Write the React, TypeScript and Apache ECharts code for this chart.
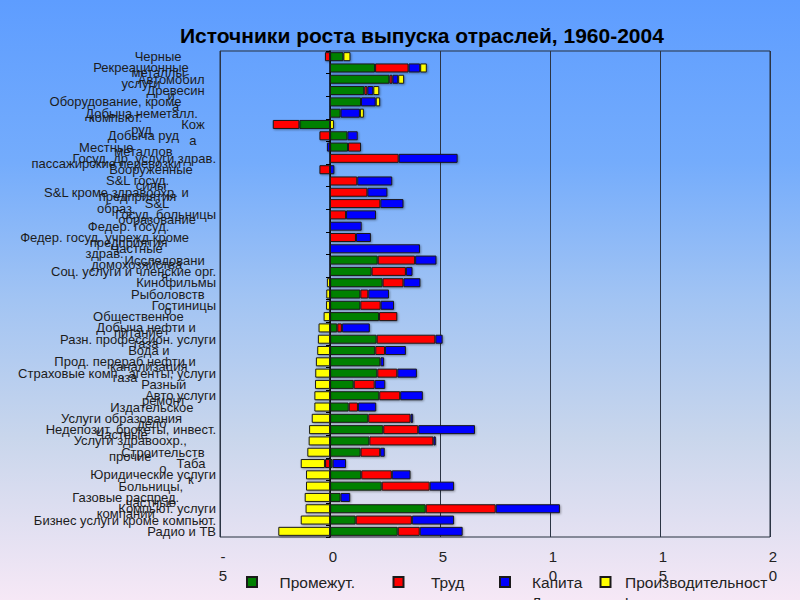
import React, { useEffect, useRef } from 'react';
import * as echarts from 'echarts';

const categories: string[] = [
  'Черные\nметаллы',
  'Рекреационные\nуслуги',
  'Автомобил\nи',
  'Древесин\nа',
  'Оборудование, кроме\nкомпьют.',
  'Добыча неметалл.\nруд',
  'Кож\nа',
  'Добыча руд\nметаллов',
  'Местные\nпассажирские перевозки',
  'Госуд. др. услуги здрав.',
  'Вооруженные\nсилы',
  'S&L госуд.\nпредприятия',
  'S&L кроме здравоохр. и\nобраз.',
  'S&L\nобразование',
  'Госуд. больницы',
  'Федер. госуд.\nпредприятия',
  'Федер. госуд. учрежд кроме\nздрав.',
  'Частные\nдомохозяйства',
  'Исследовани\nя',
  'Соц. услуги и членские орг.',
  'Кинофильмы',
  'Рыболовств\nо',
  'Гостиницы',
  'Общественное\nпитание',
  'Добыча нефти и\nгаза',
  'Разн. профессион. услуги',
  'Вода и\nканализация',
  'Прод. перераб нефти и\nгаза',
  'Страховые комп., агенты, услуги',
  'Разный\nремонт',
  'Авто услуги',
  'Издательское\nдело',
  'Услуги образования\nЧастные',
  'Недепозит. брокеты, инвест.',
  'Услуги здравоохр.,\nпрочие',
  'Строительств\nо',
  'Таба\nк',
  'Юридические услуги',
  'Больницы,\nчастные',
  'Газовые распред.\nкомпании',
  'Компьют. услуги',
  'Бизнес услуги кроме компьют.',
  'Радио и ТВ',
];

const intermediate: (number | null)[] = [
  0.61, 2.05, 2.70, 1.56, 1.41, 0.48, -1.39, 0.79, 0.82, null,
  null, null, null, null, null, null, null, null, 2.17, 1.89,
  2.39, 1.38, 1.38, 2.23, 0.33, 2.12, 2.06, 2.29, 2.15, 1.08,
  2.24, 0.85, 1.74, 2.42, 1.79, 1.39, 0.12, 1.42, 2.35, 0.48,
  4.35, 1.17, 3.08,
];
const labor: (number | null)[] = [
  -0.23, 1.52, 0.14, 0.14, null, null, -1.21, -0.48, 0.59, 3.12,
  -0.48, 1.24, 1.70, 2.29, 0.73, null, 1.18, null, 1.70, 1.56,
  0.95, 0.36, 0.92, 0.83, 0.21, 2.67, 0.44, null, 0.91, 0.95,
  0.95, 0.42, 1.92, 1.59, 2.91, 0.89, -0.23, 1.39, 2.18, null,
  3.18, 2.55, 1.00,
];
const capital: (number | null)[] = [
  null, 0.53, 0.26, 0.27, 0.67, 0.88, null, 0.47, -0.14, 2.68,
  0.20, 1.59, 0.91, 1.05, 1.36, 1.44, 0.68, 4.09, 0.97, 0.30,
  0.77, 0.94, 0.61, null, 1.27, 0.33, 0.95, 0.17, 0.89, 0.48,
  1.03, 0.83, 0.12, 2.58, 0.11, 0.21, 0.61, 0.85, 1.11, 0.44,
  2.92, 1.92, 1.95,
];
const productivity: (number | null)[] = [
  0.32, 0.30, 0.27, 0.27, 0.20, 0.18, 0.18, null, null, null,
  null, null, null, null, null, null, null, null, null, null,
  -0.14, -0.17, -0.18, -0.29, -0.52, -0.55, -0.58, -0.64, -0.67, -0.68,
  -0.71, -0.71, -0.83, -0.95, -0.97, -1.03, -1.10, -1.09, -1.09, -1.15,
  -1.11, -1.33, -2.35,
];

const seriesNames = ['Промежут.', 'Труд', 'Капитал', 'Производительность'];
const seriesColors = ['#008000', '#ff0000', '#0000ff', '#ffff00'];
const legendShown: Record<string, string> = {
  'Промежут.': 'Промежут.',
  'Труд': 'Труд',
  'Капитал': ' \nКапита\nл',
  'Производительность': ' \nПроизводительност\nь',
};

const titleText = 'Источники роста выпуска отраслей, 1960-2004';
const FONT = '"Liberation Sans", Arial, sans-serif';
const LABEL_SIZE = 13;

function measureFactory() {
  const c = document.createElement('canvas');
  const ctx = c.getContext('2d')!;
  ctx.font = `${LABEL_SIZE}px "Liberation Sans", Arial, sans-serif`;
  return (t: string) => ctx.measureText(t).width;
}

export default function App() {
  const ref = useRef<HTMLDivElement>(null);
  useEffect(() => {
    if (!ref.current) return;
    const chart = echarts.init(ref.current, undefined, { renderer: 'svg' });
    const measure = measureFactory();

    const yData = categories.map((c) => {
      const lines = c.split('\n');
      if (lines.length === 1) return { value: c };
      const B = Math.max(...lines.map(measure));
      const W = measure(lines.join(' '));
      return { value: c, textStyle: { padding: [0, 6 + (W - B) / 2, 0, 0] } };
    });

    const dataSets = [intermediate, labor, capital, productivity];
    const legendLefts = [246, 392.5, 499, 599.5];
    const legendPads = [17.5, 22.5, 17, 9.5];
    const legendTops = [573, 573, 555, 555];

    const option: any = {
      animation: false,
      backgroundColor: new echarts.graphic.LinearGradient(0, 0, 0, 1, [
        { offset: 0, color: '#5e9dff' },
        { offset: 0.27, color: '#74acfc' },
        { offset: 0.5, color: '#a2c4f3' },
        { offset: 0.73, color: '#c9d6ec' },
        { offset: 1, color: '#f6e8f6' },
      ]),
      title: {
        text: titleText,
        left: 175,
        top: 20,
        textStyle: { fontFamily: FONT, fontWeight: 'bold', fontSize: 21, color: '#000' },
      },
      legend: seriesNames.map((n, i) => ({
        data: [n],
        left: legendLefts[i],
        top: legendTops[i],
        padding: 0,
        icon: 'rect',
        itemWidth: 10,
        itemHeight: 10,
        formatter: (name: string) => legendShown[name] ?? name,
        textStyle: {
          fontFamily: FONT,
          fontSize: 15.5,
          lineHeight: 18,
          color: '#222',
          padding: [0, 0, 0, legendPads[i]],
        },
      })),
      grid: {
        left: 220,
        right: 30,
        top: 51,
        bottom: 63,
        show: true,
        borderColor: '#27303f',
        borderWidth: 1,
        backgroundColor: 'transparent',
      },
      xAxis: {
        type: 'value',
        min: -5,
        max: 20,
        interval: 5,
        axisLine: { show: false },
        axisTick: { show: false },
        splitLine: { show: true, lineStyle: { color: '#2b3444', width: 1 } },
        axisLabel: {
          margin: 10,
          fontFamily: FONT,
          fontSize: 15,
          lineHeight: 19,
          color: '#222',
          padding: [0, 0, 0, 6],
          formatter: (v: number) => String(v).split('').join('\n'),
        },
      },
      yAxis: [
        {
          type: 'category',
          inverse: true,
          data: yData,
          position: 'left',
          axisLine: { show: false, onZero: false },
          axisTick: { show: false },
          axisLabel: {
            interval: 0,
            margin: 4,
            align: 'right',
            color: '#1c1c1c',
            formatter: (value: string) => {
              const lines = value.split('\n');
              const pre = lines.slice(1).map(() => '{c| }');
              return [...pre, ...lines.map((l) => `{c|${l}}`)].join('\n');
            },
            rich: {
              c: {
                align: 'center',
                fontFamily: FONT,
                fontSize: LABEL_SIZE,
                lineHeight: 16,
                color: '#1c1c1c',
              },
            },
          },
        },
        {
          type: 'category',
          inverse: true,
          data: categories,
          position: 'left',
          axisLine: { show: true, onZero: true, lineStyle: { color: '#000', width: 1.5 } },
          axisTick: { show: true, length: 4, lineStyle: { color: '#000' } },
          axisLabel: { show: false },
          splitLine: { show: false },
        },
      ],
      series: seriesNames.map((n, i) => ({
        name: n,
        type: 'bar',
        stack: 'total',
        yAxisIndex: 0,
        barWidth: 9,
        data: dataSets[i],
        itemStyle: {
          color: seriesColors[i],
          borderColor: '#1a1a1a',
          borderWidth: 1,
          shadowBlur: 2,
          shadowColor: 'rgba(0,0,0,0.35)',
          shadowOffsetX: 1,
          shadowOffsetY: 1,
        },
      })),
    };
    chart.setOption(option);
    return () => chart.dispose();
  }, []);
  return (
    <div
      ref={ref}
      style={{ position: 'fixed', left: 0, top: 0, width: 800, height: 600 }}
    />
  );
}
